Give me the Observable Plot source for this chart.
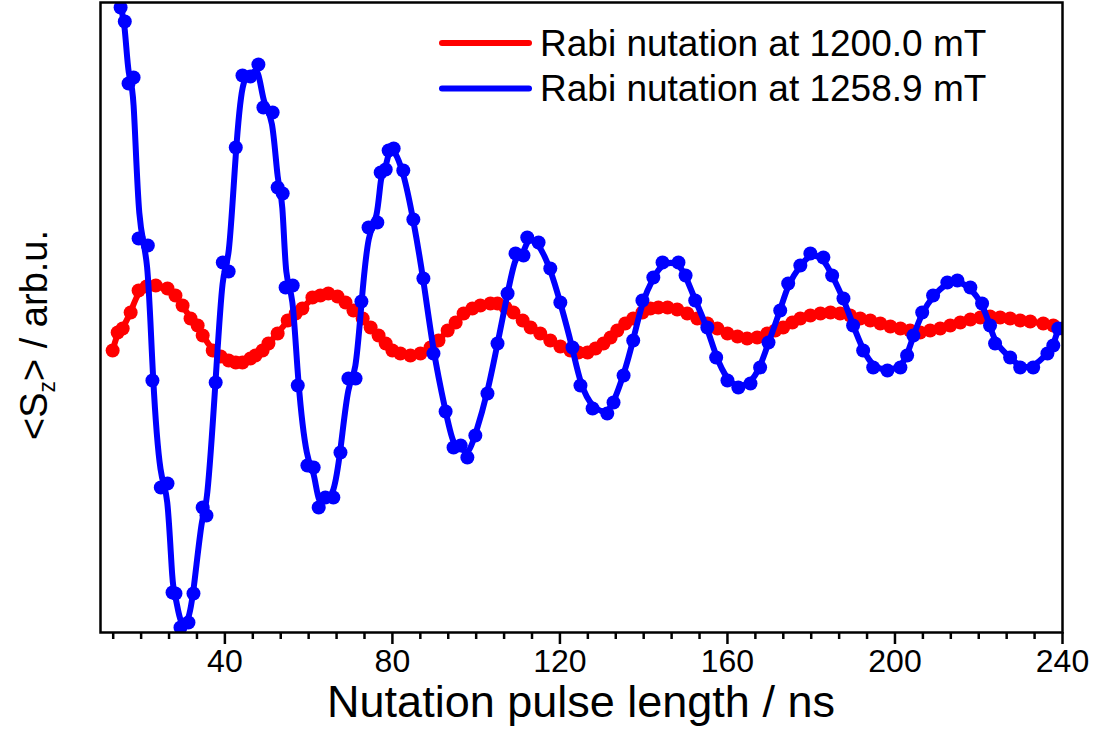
<!DOCTYPE html>
<html>
<head>
<meta charset="utf-8">
<script src="https://cdn.jsdelivr.net/npm/d3@7"></script>
<script src="https://cdn.jsdelivr.net/npm/@observablehq/plot@0.6"></script>
<style>
  html, body { margin: 0; padding: 0; background: #fff; }
  #chart { width: 1106px; height: 735px; }
  svg text { font-family: "Liberation Sans", Arial, sans-serif; }
</style>
</head>
<body>
<div id="chart"></div>
<script>
// ---- Data ----
const seriesNames = ["Rabi nutation at 1200.0 mT", "Rabi nutation at 1258.9 mT"];
const seriesColors = ["#ff0000", "#0000ff"];

// Red series: 1200.0 mT
const redX = [13.2,14.4,15.6,17.5,19.4,21.3,23.5,26.3,28.2,29.9,31.8,33.5,34.7,37.1,39.0,40.9,42.6,44.2,46.1,47.3,49.0,50.4,52.6,55.0,56.9,58.5,60.9,62.8,64.7,66.9,68.8,70.7,72.9,74.8,76.7,78.4,80.0,81.9,84.3,86.7,89.1,91.0,93.2,95.1,97.0,99.1,101.0,103.4,105.1,107.0,108.9,111.1,113.0,115.3,117.7,120.1,122.5,124.4,126.6,128.5,130.4,132.1,133.7,135.6,137.5,139.7,141.6,143.5,145.7,148.0,150.4,152.8,155.2,157.6,160.0,162.4,164.7,167.1,169.5,171.4,173.3,175.5,177.4,179.8,182.2,184.6,186.9,189.3,191.7,194.1,196.5,198.9,201.3,203.6,206.0,208.4,210.8,213.2,215.6,218.0,220.4,222.7,225.1,227.5,229.9,232.3,235.4,237.8,240.2];
const redY = [-0.20,-0.02,0.02,0.18,0.40,0.44,0.45,0.42,0.35,0.25,0.12,0.05,-0.05,-0.20,-0.26,-0.30,-0.32,-0.32,-0.28,-0.25,-0.20,-0.13,-0.03,0.10,0.17,0.22,0.33,0.35,0.37,0.34,0.28,0.20,0.12,0.03,-0.05,-0.13,-0.20,-0.23,-0.25,-0.23,-0.17,-0.10,0.00,0.08,0.17,0.22,0.25,0.27,0.27,0.23,0.18,0.10,0.03,-0.03,-0.10,-0.16,-0.20,-0.22,-0.22,-0.18,-0.13,-0.07,0.00,0.07,0.12,0.18,0.22,0.23,0.23,0.21,0.17,0.12,0.07,0.02,-0.03,-0.06,-0.08,-0.07,-0.03,0.00,0.03,0.08,0.12,0.15,0.17,0.18,0.17,0.15,0.12,0.10,0.07,0.04,0.02,0.00,-0.02,0.00,0.02,0.05,0.08,0.11,0.13,0.14,0.13,0.12,0.10,0.09,0.07,0.05,0.02];

// Blue series: 1258.9 mT
const blueX = [15.1,16.1,17.0,18.2,19.4,21.6,22.7,24.7,26.3,27.5,28.2,29.4,31.3,32.5,34.7,35.6,37.8,39.5,40.9,42.6,44.2,46.1,48.0,49.2,51.4,52.6,53.8,54.5,56.2,57.4,59.7,61.2,62.4,64.0,65.9,67.6,69.5,71.2,72.6,74.3,76.4,77.2,78.4,79.1,80.3,82.6,85.0,87.4,89.8,92.7,94.6,96.3,97.9,99.8,102.7,105.1,107.5,109.4,111.3,112.2,114.9,117.7,120.1,123.0,124.9,127.8,131.3,132.8,135.2,137.5,139.7,142.3,144.5,148.3,150.0,152.3,155.2,157.3,160.0,162.6,165.5,167.8,169.8,172.6,174.5,177.4,179.8,182.9,185.0,187.7,190.0,192.4,194.8,198.2,201.3,202.9,204.4,206.5,209.1,212.5,214.9,218.0,220.8,222.7,223.9,227.5,229.9,233.0,236.4,237.8,239.0];
const blueY = [3.23,3.09,2.47,2.53,0.92,0.85,-0.50,-1.57,-1.53,-2.62,-2.63,-2.97,-2.92,-2.63,-1.77,-1.85,-0.52,0.68,0.59,1.83,2.55,2.54,2.66,2.23,2.18,1.43,1.37,0.43,0.45,-0.55,-1.35,-1.37,-1.77,-1.67,-1.67,-1.22,-0.48,-0.48,0.29,1.03,1.08,1.58,1.61,1.80,1.82,1.60,1.11,0.52,-0.23,-0.81,-1.17,-1.15,-1.27,-1.05,-0.63,-0.13,0.37,0.77,0.75,0.93,0.88,0.62,0.28,-0.17,-0.55,-0.78,-0.83,-0.72,-0.45,-0.10,0.30,0.53,0.68,0.68,0.55,0.30,0.03,-0.27,-0.50,-0.57,-0.53,-0.37,-0.12,0.20,0.47,0.65,0.77,0.73,0.55,0.32,0.05,-0.20,-0.37,-0.40,-0.37,-0.25,-0.05,0.18,0.35,0.48,0.50,0.43,0.27,0.05,-0.13,-0.27,-0.37,-0.37,-0.23,-0.15,0.02];

const xMajorTicks = [40, 80, 120, 160, 200, 240];
const xMinorTicks = [13.333, 20, 26.667, 33.333, 46.667, 53.333, 60, 66.667, 73.333, 86.667, 93.333, 100, 106.667, 113.333, 126.667, 133.333, 140, 146.667, 153.333, 166.667, 173.333, 180, 186.667, 193.333, 206.667, 213.333, 220, 226.667, 233.333];
const xLabel = "Nutation pulse length / ns";

// ---- Build tables ----
const red = redX.map((x, i) => ({x, y: redY[i]}));
const blue = blueX.map((x, i) => ({x, y: blueY[i]}));

const plot = Plot.plot({
  width: 1106,
  height: 735,
  marginLeft: 100,
  marginRight: 44,
  marginTop: 2,
  marginBottom: 103,
  style: {background: "#fff", fontFamily: "Liberation Sans, Arial, sans-serif"},
  x: {domain: [10.3, 240]},
  y: {domain: [-3.02, 3.28]},
  marks: [
    Plot.line(red, {x: "x", y: "y", stroke: seriesColors[0], strokeWidth: 6, curve: "basis", clip: true}),
    Plot.dot(red, {x: "x", y: "y", r: 7, fill: seriesColors[0], stroke: "none", clip: true}),
    Plot.line(blue, {x: "x", y: "y", stroke: seriesColors[1], strokeWidth: 6, curve: "basis", clip: true}),
    Plot.dot(blue, {x: "x", y: "y", r: 7, fill: seriesColors[1], stroke: "none", clip: true}),
    Plot.axisX({ticks: xMinorTicks, tickSize: 7, tickFormat: () => "", strokeWidth: 2.5, label: null}),
    Plot.axisX({ticks: xMajorTicks, tickSize: 12, tickPadding: 5, fontSize: 32, strokeWidth: 2.5, label: null, tickFormat: d => d}),
    Plot.axisY({ticks: [], label: null}),
    Plot.frame({stroke: "#000", strokeWidth: 2.5})
  ]
});

document.getElementById("chart").appendChild(plot);

// ---- Titles and legend as real text ----
const svg = d3.select(plot);
svg.append("text")
  .attr("x", 581).attr("y", 717)
  .attr("text-anchor", "middle")
  .attr("font-size", 45)
  .attr("fill", "#000")
  .text(xLabel);

const yl = svg.append("text")
  .attr("transform", "translate(47,335) rotate(-90)")
  .attr("text-anchor", "middle")
  .attr("font-size", 38)
  .attr("fill", "#000");
yl.append("tspan").text("<S");
yl.append("tspan").attr("font-size", 23).attr("baseline-shift", "-35%").text("z");
yl.append("tspan").text("> / arb.u.");

const legendRows = [43, 88.5];
seriesNames.forEach((name, i) => {
  svg.append("line")
    .attr("x1", 442).attr("x2", 529)
    .attr("y1", legendRows[i]).attr("y2", legendRows[i])
    .attr("stroke", seriesColors[i]).attr("stroke-width", 6).attr("stroke-linecap", "round");
  svg.append("text")
    .attr("x", 540).attr("y", legendRows[i] + 12.5)
    .attr("text-anchor", "start")
    .attr("font-size", 37)
    .attr("fill", "#000")
    .text(name);
});
</script>
</body>
</html>
